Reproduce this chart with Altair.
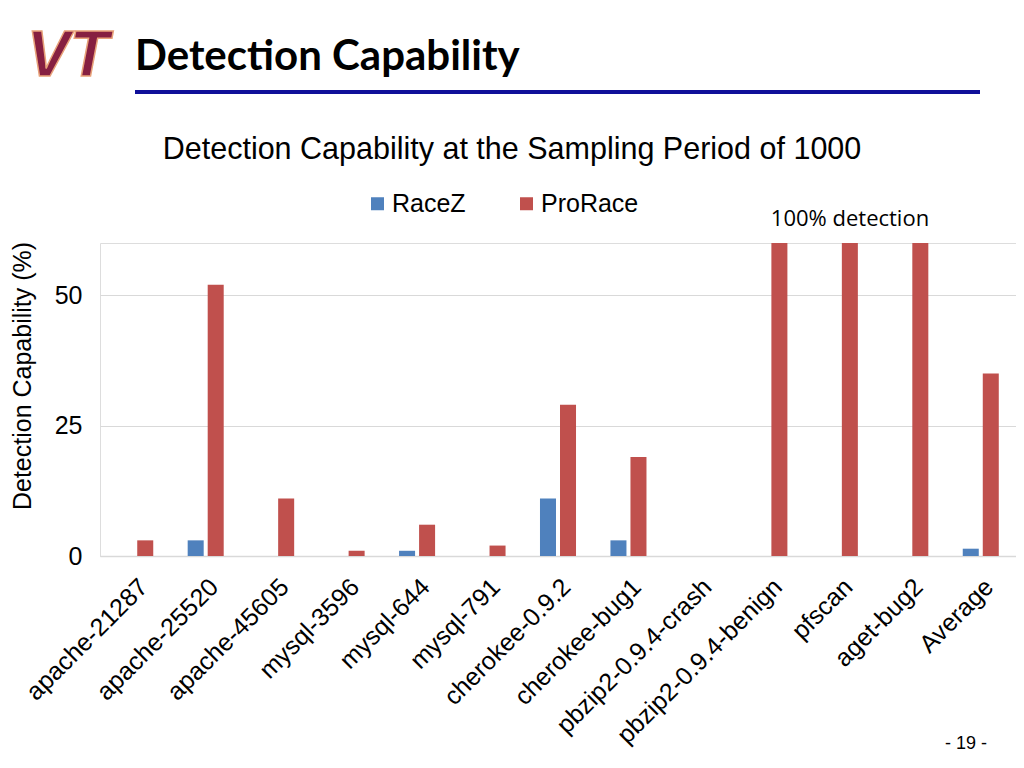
import altair as alt
import pandas as pd

categories = ["apache-21287", "apache-25520", "apache-45605", "mysql-3596", "mysql-644",
              "mysql-791", "cherokee-0.9.2", "cherokee-bug1", "pbzip2-0.9.4-crash",
              "pbzip2-0.9.4-benign", "pfscan", "aget-bug2", "Average"]
racez = [0, 3, 0, 0, 1, 0, 11, 3, 0, 0, 0, 0, 1.4]
prorace = [3, 52, 11, 1, 6, 2, 29, 19, 0, 60, 60, 60, 35]
series = ["RaceZ", "ProRace"]
colors = ["#4F81BD", "#C0504D"]

rows = []
for c, a, b in zip(categories, racez, prorace):
    rows.append({"cat": c, "series": "RaceZ", "value": a})
    rows.append({"cat": c, "series": "ProRace", "value": b})
df = pd.DataFrame(rows)

FONT = "Liberation Sans"

bars = alt.Chart(df).mark_bar().encode(
    x=alt.X("cat:N", sort=categories,
            scale=alt.Scale(paddingInner=0, paddingOuter=0),
            axis=alt.Axis(title=None, labelAngle=-45, labelFontSize=25, labelFont=FONT,
                          labelColor="black", ticks=False, domainColor="#D9D9D9",
                          domainWidth=1.5, labelPadding=18, labelAlign="right",
                          labelBaseline="top", labelLimit=400)),
    xOffset=alt.XOffset("series:N", sort=series,
                        scale=alt.Scale(domain=series, paddingInner=0.2, paddingOuter=0.86)),
    y=alt.Y("value:Q", scale=alt.Scale(domain=[0, 60], nice=False),
            axis=alt.Axis(values=[0, 25, 50], title=None, labelFontSize=25, labelFont=FONT,
                          labelColor="black", grid=True, gridColor="#D9D9D9", domain=False,
                          ticks=False, labelPadding=18)),
    color=alt.Color("series:N",
                    scale=alt.Scale(domain=series, range=colors),
                    legend=alt.Legend(orient="none", legendX=265, legendY=-52,
                                      direction="horizontal", title=None,
                                      symbolType="square", symbolSize=169,
                                      symbolStrokeWidth=0, labelFontSize=25,
                                      labelFont=FONT, labelColor="black",
                                      columnPadding=48, labelOffset=2)),
)

one = pd.DataFrame({"k": [0]})

header = alt.Chart(one).mark_text(text="Detection Capability", font="Lato", fontWeight="bold",
                                  fontSize=42, align="left", baseline="alphabetic",
                                  color="black").encode(x=alt.value(35), y=alt.value(-173))
logo = alt.Chart(one).mark_text(text="VT", font=FONT, fontWeight="bold", fontStyle="italic",
                                fontSize=64, align="center", baseline="alphabetic",
                                color="#861F41", stroke="#E8A27A", strokeWidth=1.5
                                ).encode(x=alt.value(-32), y=alt.value(-167))
hline = alt.Chart(one).mark_rule(color="#0F0F99", strokeWidth=4).encode(
    x=alt.value(35), x2=alt.value(880), y=alt.value(-151))
title = alt.Chart(one).mark_text(text="Detection Capability at the Sampling Period of 1000",
                                 font=FONT, fontSize=30.5, align="center", baseline="alphabetic",
                                 color="black").encode(x=alt.value(412), y=alt.value(-84))
ytitle = alt.Chart(one).mark_text(text="Detection Capability (%)", font=FONT, fontSize=25,
                                  angle=270, align="center", baseline="middle",
                                  color="black").encode(x=alt.value(-77), y=alt.value(133))
note = alt.Chart(one).mark_text(text="100% detection", font="Open Sans", fontSize=22,
                                align="center", baseline="alphabetic",
                                color="black").encode(x=alt.value(750), y=alt.value(-17))
page = alt.Chart(one).mark_text(text="- 19 -", font=FONT, fontSize=18, align="center",
                                baseline="alphabetic", color="black"
                                ).encode(x=alt.value(866), y=alt.value(506))

chart = alt.layer(bars, header, logo, hline, title, ytitle, note, page).properties(
    width=916, height=313,
    autosize=alt.AutoSizeParams(type="none"),
    padding={"left": 92, "top": 235, "right": 0, "bottom": 200},
).configure_view(stroke=None).configure(background="white")

chart.save("out.html", embed_options={"renderer": "svg", "actions": False})
